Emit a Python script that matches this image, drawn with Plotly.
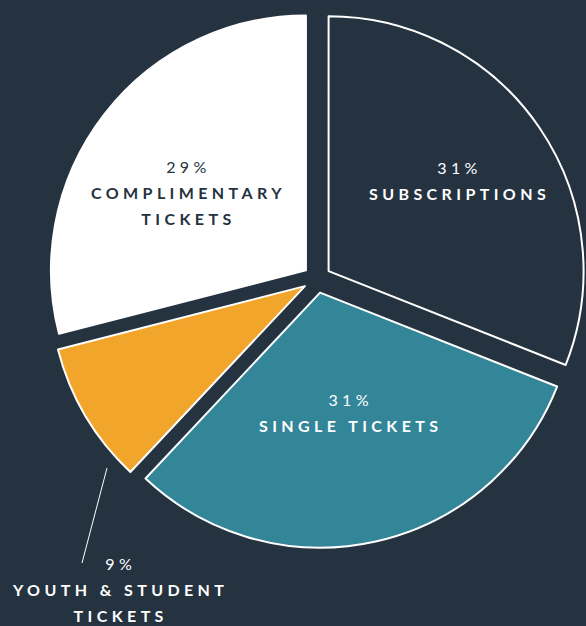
import plotly.graph_objects as go

# ---- data ----
labels = ["SUBSCRIPTIONS", "SINGLE TICKETS", "YOUTH & STUDENT TICKETS", "COMPLIMENTARY TICKETS"]
label_lines = [["SUBSCRIPTIONS"], ["SINGLE TICKETS"], ["YOUTH &amp; STUDENT", "TICKETS"], ["COMPLIMENTARY", "TICKETS"]]
values = [31, 31, 9, 29]
colors = ["#253240", "#338598", "#f1a52b", "#ffffff"]
text_colors = ["#ffffff", "#ffffff", "#ffffff", "#253240"]

# ---- layout constants (pixels) ----
BG = "#253240"
W, H = 586, 626
LS = "letter-spacing:4.4px"
# label block centres (x, y) in pixels, one per slice
label_pos = [(459, 181), (350, 412), (120, 589), (188, 193)]
# leader line for the small slice
leader = ((107, 468), (82, 563))


def fmt(v, lines):
    pct = f"<span style='font-size:16px;{LS}'>{v}%</span>"
    rest = "<br>".join(f"<span style='font-size:16px;{LS}'><b>{l}</b></span>" for l in lines)
    return pct + "<br>" + rest


fig = go.Figure(
    go.Pie(
        labels=labels,
        values=values,
        textinfo="none",
        sort=False,
        direction="clockwise",
        rotation=0,
        pull=[0.055] * len(values),
        marker=dict(colors=colors, line=dict(color="#ffffff", width=2)),
        hoverinfo="skip",
        showlegend=False,
        domain=dict(x=[48 / W, 1.0], y=[1 - 550 / H, 1 - 8 / H]),
    )
)

for v, lines, (px, py), c in zip(values, label_lines, label_pos, text_colors):
    fig.add_annotation(
        x=px / W, y=1 - py / H, xref="paper", yref="paper",
        xanchor="center", yanchor="middle", showarrow=False, align="center",
        text=fmt(v, lines),
        font=dict(family="Lato", size=20, color=c),
    )

(lx0, ly0), (lx1, ly1) = leader
fig.add_shape(
    type="line", xref="paper", yref="paper",
    x0=lx0 / W, y0=1 - ly0 / H, x1=lx1 / W, y1=1 - ly1 / H,
    line=dict(color="#ffffff", width=1),
)

fig.update_layout(
    width=W, height=H,
    margin=dict(l=0, r=0, t=0, b=0),
    paper_bgcolor=BG, plot_bgcolor=BG,
)

fig.write_html(
    "out.html",
    config={"displayModeBar": False},
    post_script="document.body.style.margin='0';document.body.style.background='" + BG + "';document.body.style.overflow='hidden';",
)
